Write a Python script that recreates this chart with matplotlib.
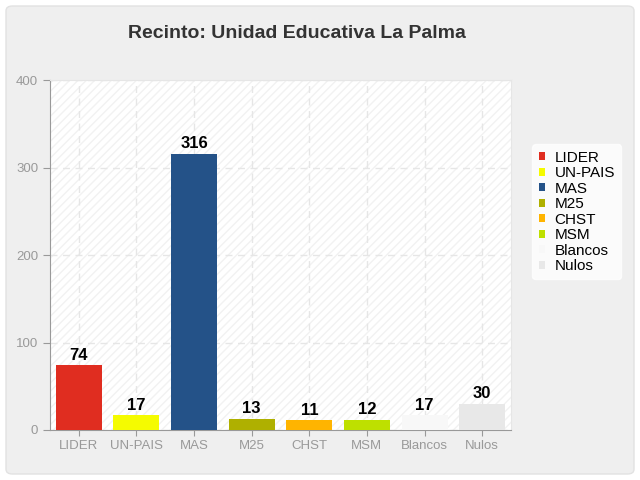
import matplotlib
matplotlib.use("Agg")
import matplotlib.pyplot as plt
from matplotlib.patches import FancyBboxPatch

plt.rcParams['font.family'] = ['Liberation Sans', 'DejaVu Sans']

partidos = ['LIDER', 'UN-PAIS', 'MAS', 'M25', 'CHST', 'MSM', 'Blancos', 'Nulos']
votos = [74, 17, 316, 13, 11, 12, 17, 30]
colores = ['#e02d20', '#f5fb00', '#245288', '#afb000', '#ffb400', '#bee000', '#f8f8f8', '#e8e8e8']
yticks = [0, 100, 200, 300, 400]

fig = plt.figure(figsize=(6.4, 4.8), dpi=100)
fig.patch.set_facecolor('white')

# panel de fondo redondeado
panel = FancyBboxPatch((6 / 640, 6 / 480), 628 / 640, 468 / 480,
                       boxstyle='round,pad=0,rounding_size=0.01',
                       transform=fig.transFigure, facecolor='#efefef',
                       edgecolor='#e2e2e2', linewidth=1, zorder=-10)
fig.patches.append(panel)

ax = fig.add_axes([50 / 640, 50 / 480, 461 / 640, 350 / 480])
ax.set_zorder(1)
ax.set_facecolor('white')
# rayado diagonal tenue del fondo
ax.fill_between([-0.5, len(partidos) - 0.5], 0, 400, facecolor='none',
                edgecolor='#f2f2f2', hatch='////', linewidth=0, zorder=0)

x = list(range(len(partidos)))
bars = ax.bar(x, votos, width=0.8, color=colores, zorder=3)
for xi, v in zip(x, votos):
    ax.text(xi, v + 3, str(v), ha='center', va='bottom', fontsize=12,
            fontweight='bold', color='black', zorder=4)

ax.set_xlim(-0.5, len(partidos) - 0.5)
ax.set_ylim(0, 400)
ax.set_yticks(yticks)
ax.set_xticks(x)
ax.set_xticklabels(partidos)
ax.tick_params(axis='both', colors='#999999', labelcolor='#999999', labelsize=9.5, length=5)
ax.tick_params(axis='x', length=4)
ax.grid(True, color='#e6e6e6', linestyle=(0, (5, 4)), linewidth=1, zorder=1)
for s in ['top', 'right']:
    ax.spines[s].set_color('#e6e6e6')
for s in ['left', 'bottom']:
    ax.spines[s].set_color('#999999')

fig.text(297 / 640, 1 - 33 / 480, 'Recinto: Unidad Educativa La Palma', ha='center', va='center',
         fontsize=14, fontweight='bold', color='#333333')

leg = ax.legend(bars, partidos, loc='center left', bbox_to_anchor=(1.03, 0.623),
                frameon=True, fontsize=11, handlelength=0.45, handleheight=0.45,
                handletextpad=0.6, labelspacing=0.1, borderpad=0.4, fancybox=True)
leg.get_frame().set_facecolor('white')
leg.get_frame().set_edgecolor('white')

fig.savefig('out.png', dpi=100)
